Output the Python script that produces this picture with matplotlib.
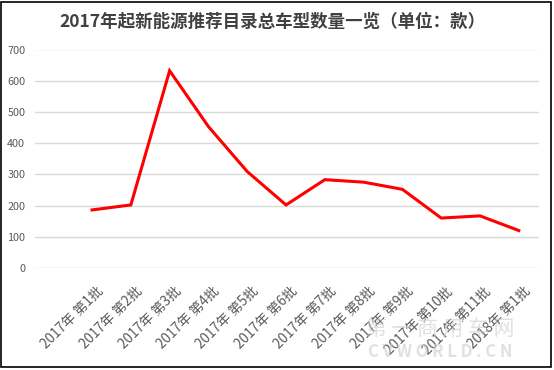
import matplotlib
matplotlib.use('Agg')
import matplotlib.pyplot as plt
import matplotlib.transforms as mtransforms
from matplotlib.patches import Rectangle

plt.rcParams['font.family'] = ['Noto Sans CJK SC', 'DejaVu Sans']

# data
batches = ['2017年 第1批', '2017年 第2批', '2017年 第3批', '2017年 第4批',
           '2017年 第5批', '2017年 第6批', '2017年 第7批', '2017年 第8批',
           '2017年 第9批', '2017年 第10批', '2017年 第11批', '2018年 第1批']
models = [186, 202, 632, 453, 309, 202, 283, 275, 252, 160, 167, 120]
y_ticks = [0, 100, 200, 300, 400, 500, 600, 700]

title = '2017年起新能源推荐目录总车型数量一览（单位：款）'

fig = plt.figure(figsize=(5.54, 3.70), dpi=100)
ax = fig.add_axes([35 / 554, (370 - 268) / 370, 504 / 554, 218.5 / 370])

x = list(range(len(batches)))
ax.plot(x, models, color='#ff0000', linewidth=2.2, solid_joinstyle='miter', zorder=3)

ax.set_xlim(-1.47, 11.52)
ax.set_ylim(0, 700)
ax.set_yticks(y_ticks)
ax.set_yticklabels([str(v) for v in y_ticks], color='#595959', fontsize=7.8)
ax.tick_params(axis='y', length=0, pad=7)
ax.grid(axis='y', color='#d9d9d9', linewidth=1)
ax.set_axisbelow(True)
for side in ['top', 'right', 'left', 'bottom']:
    ax.spines[side].set_visible(False)

ax.set_xticks(x)
ax.set_xticklabels(batches, rotation=45, ha='right', va='center',
                   rotation_mode='anchor', color='#595959', fontsize=9.8)
ax.tick_params(axis='x', length=0, pad=0)
offset = mtransforms.ScaledTranslation(0.09, -0.21, fig.dpi_scale_trans)
for lbl in ax.get_xticklabels():
    lbl.set_transform(lbl.get_transform() + offset)

fig.text(272 / 554, 1 - 22 / 370, title, ha='center', va='center',
         fontsize=12.6, fontweight='bold', color='#404040')

# watermark
fig.text(440 / 554, 1 - 330 / 370, '第 一 商 用 车 网', ha='center', va='center',
         fontsize=15, color='#cccccc', alpha=0.6, zorder=0)
fig.text(440 / 554, 1 - 352 / 370, 'C V W O R L D . C N', ha='center', va='center',
         fontsize=12, fontweight='bold', color='#cccccc', alpha=0.6, zorder=0)

# outer frame
fig.patches.append(Rectangle((1 / 554, 3 / 370), 550 / 554, 365 / 370,
                             transform=fig.transFigure, fill=False,
                             edgecolor='black', linewidth=1.2))

fig.savefig('out.png', dpi=100)
